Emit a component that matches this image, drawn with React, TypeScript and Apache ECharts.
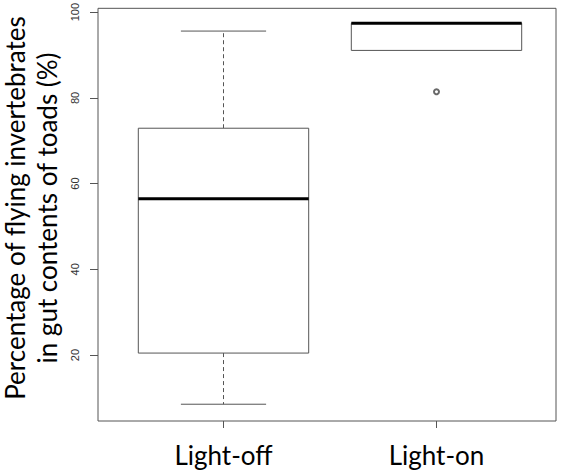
import React, { useEffect, useRef } from "react";
import * as echarts from "echarts";

const categories = ["Light-off", "Light-on"];
const lowerWhisker = [8.5, 90.8];
const q1 = [20.4, 90.8];
const median = [56.3, 97.1];
const q3 = [72.7, 97.1];
const upperWhisker = [95.3, 97.1];
const outliers: [number, number][] = [[1, 81.2]];
const yTicks = [20, 40, 60, 80, 100];
const yTitle = "Percentage of flying invertebrates\nin gut contents of toads (%)";

const LINE = "#555";
const FONT = "Lato";

export default function App() {
  const ref = useRef<HTMLDivElement>(null);
  useEffect(() => {
    if (!ref.current) return;
    const chart = echarts.init(ref.current, undefined, { renderer: "svg" });
    const boxData = categories.map((_, i) => [
      i,
      lowerWhisker[i],
      q1[i],
      median[i],
      q3[i],
      upperWhisker[i],
    ]);
    chart.setOption({
      animation: false,
      backgroundColor: "#fff",
      grid: [
        { left: 98, top: 7, right: 6, bottom: 51, show: true, borderColor: LINE, borderWidth: 1, backgroundColor: "transparent" },
        { left: 117, top: 7, right: 19, bottom: 51 },
      ],
      xAxis: [
        { type: "value", gridIndex: 0, show: false, min: 0, max: 1 },
        {
          type: "category",
          gridIndex: 1,
          data: categories,
          axisLine: { show: false },
          axisTick: { show: true, alignWithLabel: true, length: 7, lineStyle: { color: LINE } },
          axisLabel: { fontSize: 26, fontFamily: FONT, color: "#000", margin: 21 },
          splitLine: { show: false },
        },
      ],
      yAxis: [
        {
          type: "value",
          gridIndex: 0,
          min: 4.6,
          max: 100.9,
          axisLine: { show: false },
          axisTick: { show: true, length: 8, lineStyle: { color: LINE }, customValues: yTicks },
          axisLabel: {
            rotate: 90,
            fontSize: 11,
            fontFamily: "Liberation Sans",
            color: "#333",
            margin: 18,
            customValues: yTicks,
          },
          splitLine: { show: false },
        },
        { type: "value", gridIndex: 1, min: 4.6, max: 100.9, show: false },
      ],
      graphic: [
        {
          type: "text",
          x: 31,
          y: 208,
          rotation: Math.PI / 2,
          style: {
            text: yTitle,
            align: "center",
            verticalAlign: "middle",
            fontSize: 26,
            lineHeight: 32,
            fontFamily: FONT,
            fill: "#000",
          },
        },
      ],
      series: [
        {
          type: "custom",
          xAxisIndex: 1,
          yAxisIndex: 1,
          data: boxData,
          encode: { x: 0, y: [1, 2, 3, 4, 5] },
          renderItem: (params: any, api: any) => {
            const idx = api.value(0);
            const band = api.size([1, 0])[0];
            const boxW = band * 0.8;
            const capW = boxW / 2;
            const cx = api.coord([idx, 0])[0];
            const yLow = api.coord([idx, api.value(1)])[1];
            const yQ1 = api.coord([idx, api.value(2)])[1];
            const yMed = api.coord([idx, api.value(3)])[1];
            const yQ3 = api.coord([idx, api.value(4)])[1];
            const yHigh = api.coord([idx, api.value(5)])[1];
            const thin = { stroke: LINE, lineWidth: 1, fill: "none" };
            const dashed = { stroke: LINE, lineWidth: 1, lineDash: [4, 3] };
            const children: any[] = [];
            if (yHigh < yQ3 - 0.5) {
              children.push({ type: "line", shape: { x1: cx, y1: yQ3, x2: cx, y2: yHigh }, style: dashed });
              children.push({ type: "line", shape: { x1: cx - capW / 2, y1: yHigh, x2: cx + capW / 2, y2: yHigh }, style: thin });
            }
            if (yLow > yQ1 + 0.5) {
              children.push({ type: "line", shape: { x1: cx, y1: yQ1, x2: cx, y2: yLow }, style: dashed });
              children.push({ type: "line", shape: { x1: cx - capW / 2, y1: yLow, x2: cx + capW / 2, y2: yLow }, style: thin });
            }
            children.push({
              type: "rect",
              shape: { x: cx - boxW / 2, y: yQ3, width: boxW, height: yQ1 - yQ3 },
              style: { stroke: LINE, lineWidth: 1, fill: "#fff" },
            });
            children.push({
              type: "line",
              shape: { x1: cx - boxW / 2, y1: yMed, x2: cx + boxW / 2, y2: yMed },
              style: { stroke: "#000", lineWidth: 3 },
            });
            return { type: "group", children };
          },
        },
        {
          type: "scatter",
          xAxisIndex: 1,
          yAxisIndex: 1,
          data: outliers,
          symbol: "emptyCircle",
          symbolSize: 5,
          itemStyle: { color: "#444", borderWidth: 1 },
        },
      ],
    });
    return () => chart.dispose();
  }, []);
  return <div ref={ref} style={{ position: "fixed", left: 0, top: 0, width: 562, height: 472 }} />;
}
